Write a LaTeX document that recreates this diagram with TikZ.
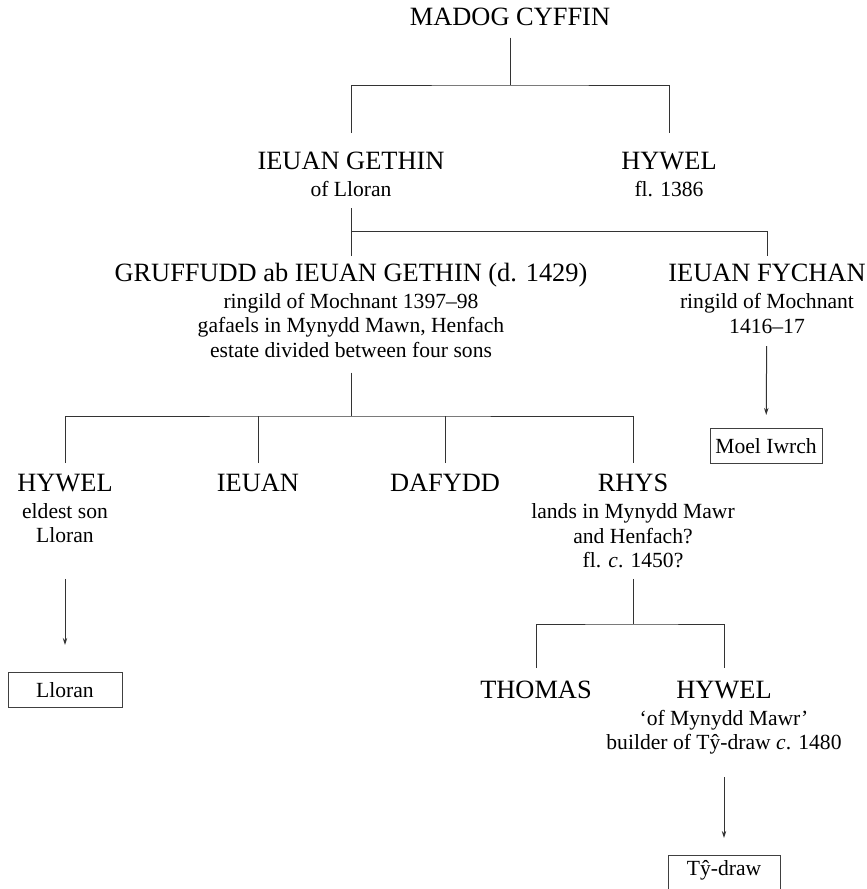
\documentclass[tikz,border=0pt]{standalone}
\usepackage{fontspec}
\setmainfont{Liberation Serif}
\usepackage{tikz}
\usetikzlibrary{
	arrows.meta,
	positioning,
	calc
}

\newcommand{\bigname}{\fontsize{13.2}{15}\selectfont}
\newcommand{\smalltext}{\fontsize{10.8}{12.4}\selectfont}

\begin{document}
\begin{tikzpicture}[x=0.5pt,y=-0.5pt,>={Stealth[length=3.5pt,width=2.2pt]},
		person/.style={align=center,inner sep=0pt,anchor=north,font=\smalltext},
		place/.style={draw=black!75,line width=0.5pt,minimum width=56pt,minimum height=17.5pt,inner sep=0pt,anchor=north,font=\smalltext},
		tree/.style={draw=black!80,line width=0.5pt}]
		
		\useasboundingbox (0,0) rectangle (867,889);
		
		% Madog and his sons
		\node[person] (madog) at (510,8){\bigname MADOG CYFFIN};
		\node[person] (ieuanG) at (351,152){{\bigname IEUAN GETHIN}\\[0.8pt]of Lloran};
		\node[person] (hywelA) at (669,152){{\bigname HYWEL}\\[0.8pt]fl. 1386};
		
		\coordinate (j1) at (510,85);
		\draw[tree,shorten <=5.5pt] (madog.south)--(j1);
		\draw[tree,shorten <=9.5pt,shorten >=9.5pt] (ieuanG)|-(j1)-|(hywelA);
		
		% sons of Ieuan Gethin
		\node[person] (gruff) at (351,263){{\bigname GRUFFUDD ab IEUAN GETHIN (d. 1429)}\\[0.8pt]ringild of Mochnant 1397--98\\gafaels in Mynydd Mawn, Henfach\\estate divided between four sons};
		\node[person] (fychan) at (767,264){{\bigname IEUAN FYCHAN}\\[0.8pt]ringild of Mochnant\\1416--17};
		
		\coordinate (j2) at (351,231);
		\draw[tree,shorten <=5.7pt] (ieuanG)--(j2);
		\draw[tree,shorten <=3.5pt,shorten >=4pt] (gruff)|-(j2)-|(fychan);
		
		\node[place] (moel) at (766,428){Moel Iwrch};
		\draw[tree,->,shorten <=6.2pt,shorten >=6.5pt] (fychan)--(moel);
		
		% the four sons of Gruffudd
		\node[person] (hywelB) at (65,474){{\bigname HYWEL}\\[0.8pt]eldest son\\Lloran};
		\node[person] (ieuan) at (258,474){\bigname IEUAN};
		\node[person] (dafydd) at (445,474){\bigname DAFYDD};
		\node[person] (rhys) at (633,474){{\bigname RHYS}\\[0.8pt]lands in Mynydd Mawr\\and Henfach?\\fl. \textit{c}. 1450?};
		
		\coordinate (j3) at (351,416);
		\draw[tree,shorten <=7.2pt] (gruff)--(j3);
		\draw[tree,shorten <=5.5pt,shorten >=5.5pt] (hywelB)|-(j3)-|(rhys);
		\draw[tree,shorten <=5.5pt] (ieuan)--(ieuan|-j3);
		\draw[tree,shorten <=5.5pt] (dafydd)--(dafydd|-j3);
		
		\node[place,minimum width=57pt] (lloran) at (65,672){Lloran};
		\draw[tree,->,shorten <=17.7pt,shorten >=13.5pt] (hywelB)--(lloran);
		
		% sons of Rhys
		\node[person] (thomas) at (536,681){\bigname THOMAS};
		\node[person] (hywelC) at (724,681){{\bigname HYWEL}\\[0.8pt]`of Mynydd Mawr'\\builder of Tŷ-draw \textit{c}. 1480};
		
		\coordinate (j4) at (633,624);
		\draw[tree,shorten <=5.2pt] (rhys)--(j4);
		\draw[tree,shorten <=6.5pt,shorten >=6.5pt] (thomas)|-(j4)-|(hywelC);
		
		\node[place,minimum height=24pt,text height=7pt,text depth=11pt] (tydraw) at (724,855){Tŷ-draw};
		\draw[tree,->,shorten <=11.2pt,shorten >=8.5pt] (hywelC)--(tydraw);
		
	\end{tikzpicture}
\end{document}
